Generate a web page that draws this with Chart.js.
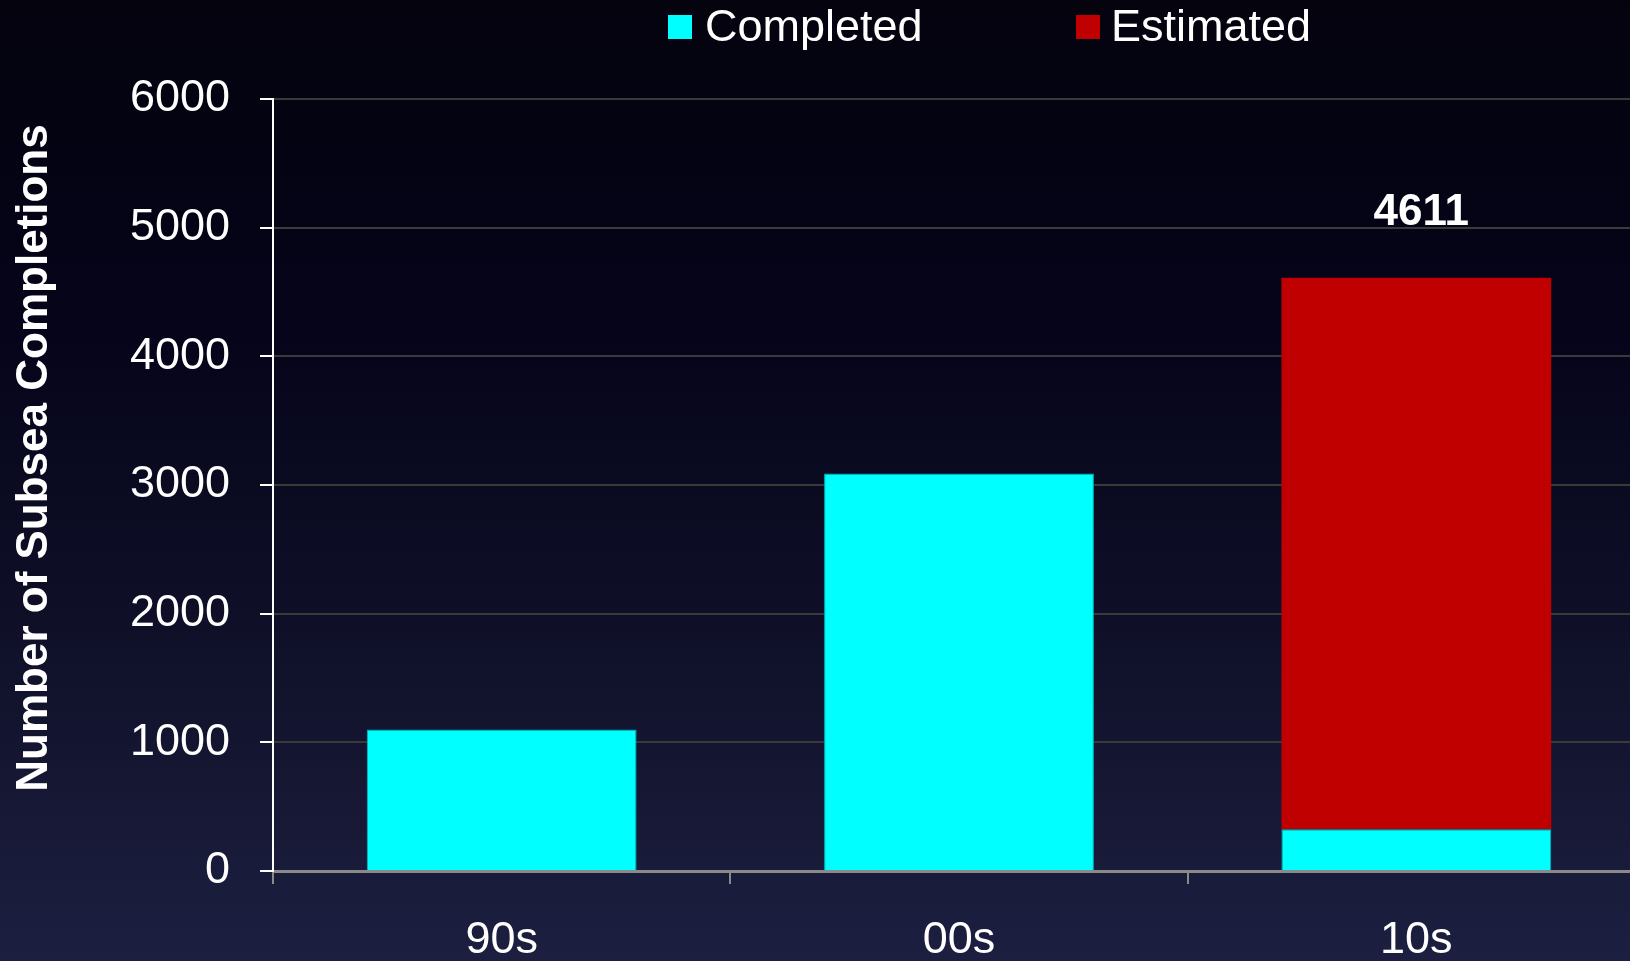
<!DOCTYPE html>
<html>
<head>
<meta charset="utf-8">
<script src="https://cdn.jsdelivr.net/npm/chart.js@4/dist/chart.umd.min.js"></script>
<style>
  html, body { margin: 0; padding: 0; overflow: hidden; }
  body {
    width: 1630px; height: 961px;
    background: linear-gradient(to bottom, #04030e 0%, #05041a 35%, #0f1028 65%, #1c1f40 100%);
  }
  #wrap { position: absolute; left: 0; top: 0; width: 1650px; height: 961px; }
</style>
</head>
<body>
<div id="wrap"><canvas id="subseaChart" width="1650" height="961"></canvas></div>
<script>
// --- data ---
const decades = ['90s', '00s', '10s'];
const completed = [1100, 3090, 325];
const estimated = [null, null, 4286];
const yTicks = [0, 1000, 2000, 3000, 4000, 5000, 6000];

const FONT = '"Liberation Sans", Arial, sans-serif';
const CYAN = '#00ffff';
const RED = '#c00000';

// legend drawn at fixed spots along the top
const legendSpots = [
    { box: 668, text: 705 },
    { box: 1076, text: 1111 }
];

const legendPlugin = {
    id: 'topLegend',
    afterDraw(chart) {
        const ctx = chart.ctx;
        ctx.save();
        ctx.font = '45px ' + FONT;
        ctx.textBaseline = 'alphabetic';
        ctx.textAlign = 'left';
        chart.data.datasets.forEach((ds, i) => {
            const spot = legendSpots[i];
            ctx.fillStyle = ds.backgroundColor;
            ctx.fillRect(spot.box, 15, 24, 24);
            ctx.fillStyle = '#ffffff';
            ctx.fillText(ds.label, spot.text, 40.5);
        });
        ctx.restore();
    }
};

// rotated axis title
const yTitlePlugin = {
    id: 'yTitle',
    afterDraw(chart) {
        const ctx = chart.ctx;
        ctx.save();
        ctx.translate(35, 458);
        ctx.rotate(-Math.PI / 2);
        ctx.font = 'bold 44px ' + FONT;
        ctx.fillStyle = '#ffffff';
        ctx.textAlign = 'center';
        ctx.textBaseline = 'middle';
        ctx.fillText('Number of Subsea Completions', 0, 0);
        ctx.restore();
    }
};

// stack total above columns that carry an estimate
const totalPlugin = {
    id: 'stackTotal',
    afterDatasetsDraw(chart) {
        const ctx = chart.ctx;
        const meta = chart.getDatasetMeta(1);
        ctx.save();
        ctx.font = 'bold 44px ' + FONT;
        ctx.fillStyle = '#ffffff';
        ctx.textAlign = 'center';
        ctx.textBaseline = 'alphabetic';
        decades.forEach((d, i) => {
            if (estimated[i] == null) return;
            const total = (completed[i] || 0) + estimated[i];
            const bar = meta.data[i];
            ctx.fillText(String(total), bar.x + 5, bar.y - 53);
        });
        ctx.restore();
    }
};

const ctx = document.getElementById('subseaChart').getContext('2d');
const chart = new Chart(ctx, {
    type: 'bar',
    data: {
        labels: decades,
        datasets: [
            { label: 'Completed', data: completed, backgroundColor: CYAN, borderColor: '#00b8c0', borderWidth: 1, borderSkipped: 'bottom' },
            { label: 'Estimated', data: estimated, backgroundColor: RED, borderWidth: 0 }
        ]
    },
    options: {
        responsive: false,
        animation: false,
        layout: { padding: { top: 99, right: 5, left: 0, bottom: 0 } },
        datasets: { bar: { barPercentage: 0.59, categoryPercentage: 1 } },
        plugins: { legend: { display: false }, tooltip: { enabled: false } },
        scales: {
            x: {
                stacked: true,
                afterFit: s => { s.height = 90; },
                border: { color: '#8a8a8a', width: 3 },
                grid: { drawOnChartArea: false, color: '#8a8a8a', tickColor: '#8a8a8a', tickLength: 13, lineWidth: 2 },
                ticks: { color: '#ffffff', font: { family: FONT, size: 45 }, padding: 30, maxRotation: 0 }
            },
            y: {
                stacked: true,
                min: 0,
                max: 6000,
                afterFit: s => { s.width = 273; },
                afterBuildTicks: s => { s.ticks = yTicks.map(v => ({ value: v })); },
                border: { color: '#ffffff', width: 2 },
                grid: { color: '#3a3a3a', tickColor: '#ffffff', tickLength: 13, lineWidth: 2 },
                ticks: { color: '#ffffff', font: { family: FONT, size: 45 }, padding: 30, callback: v => String(v) }
            }
        }
    },
    plugins: [legendPlugin, yTitlePlugin, totalPlugin]
});
</script>
</body>
</html>
